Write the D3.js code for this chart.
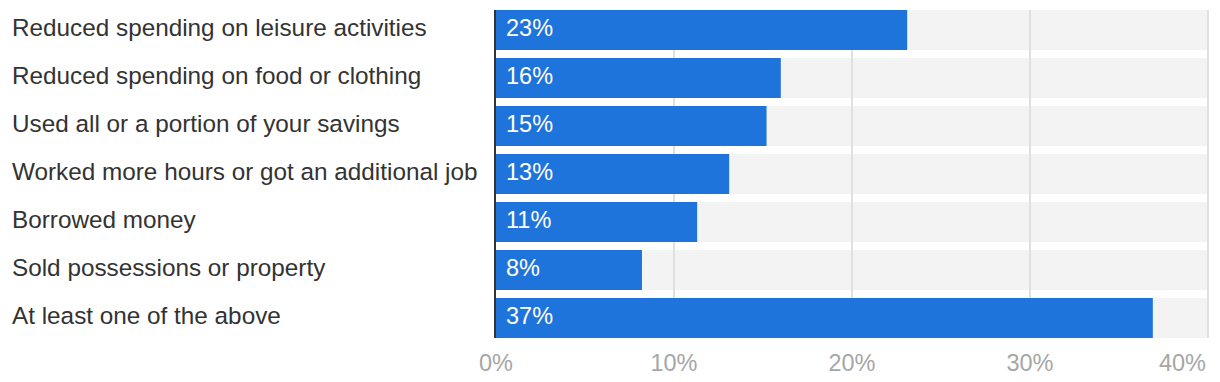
<!DOCTYPE html>
<html>
<head>
<meta charset="utf-8">
<script src="https://cdn.jsdelivr.net/npm/d3@7"></script>
<style>
  body { margin: 0; background: #fff; }
  svg { display: block; font-family: "Helvetica Neue", Helvetica, "Liberation Sans", Arial, sans-serif; }
</style>
</head>
<body>
<div id="chart"></div>
<script>
// categories and values
const categories = [
    "Reduced spending on leisure activities",
    "Reduced spending on food or clothing",
    "Used all or a portion of your savings",
    "Worked more hours or got an additional job",
    "Borrowed money",
    "Sold possessions or property",
    "At least one of the above"
];
const values = [23.1, 16.0, 15.2, 13.1, 11.3, 8.2, 36.9];
const xTicks = [0, 10, 20, 30, 40];
const xTickLabels = ["0%", "10%", "20%", "30%", "40%"];

const width = 1220, height = 382;
const plotLeft = 496, plotRight = 1208, plotTop = 10, rowH = 48;

const svg = d3.select("#chart").append("svg")
    .attr("width", width)
    .attr("height", height);

const x = d3.scaleLinear().domain([0, 40]).range([plotLeft, plotRight]);
const y = d3.scaleBand().domain(categories)
    .range([plotTop - 4, plotTop - 4 + rowH * categories.length])
    .paddingInner(8 / 48).paddingOuter(4 / 48);

// grey track behind each bar
svg.selectAll("rect.track").data(categories).enter().append("rect")
    .attr("class", "track")
    .attr("x", x(0))
    .attr("y", d => y(d))
    .attr("width", x(40) - x(0))
    .attr("height", y.bandwidth())
    .attr("fill", "#f3f3f3");

// gridlines
svg.selectAll("line.grid").data(xTicks.slice(1)).enter().append("line")
    .attr("class", "grid")
    .attr("x1", d => x(d)).attr("x2", d => x(d))
    .attr("y1", y(categories[0]))
    .attr("y2", y(categories[categories.length - 1]) + y.bandwidth())
    .attr("stroke", "#e0e0e0")
    .attr("stroke-width", 2);

// bars
svg.selectAll("rect.bar").data(values).enter().append("rect")
    .attr("class", "bar")
    .attr("x", x(0))
    .attr("y", (d, i) => y(categories[i]))
    .attr("width", d => x(d) - x(0))
    .attr("height", y.bandwidth())
    .attr("fill", "#1f74dc");

// value labels inside bars
svg.selectAll("text.val").data(values).enter().append("text")
    .attr("class", "val")
    .attr("x", x(0) + 10)
    .attr("y", (d, i) => y(categories[i]) + y.bandwidth() / 2 + 6)
    .text(d => Math.round(d) + "%")
    .style("font-size", "23.5px")
    .style("fill", "#fff");

// category labels
svg.selectAll("text.cat").data(categories).enter().append("text")
    .attr("class", "cat")
    .attr("x", 12)
    .attr("y", d => y(d) + y.bandwidth() / 2 + 6)
    .text(d => d)
    .style("font-size", "24.3px")
    .style("fill", "#333");

// y axis line
svg.append("line")
    .attr("x1", x(0) - 1).attr("x2", x(0) - 1)
    .attr("y1", y(categories[0]))
    .attr("y2", y(categories[categories.length - 1]) + y.bandwidth())
    .attr("stroke", "#333")
    .attr("stroke-width", 2);

// x tick labels
svg.selectAll("text.tick").data(xTicks).enter().append("text")
    .attr("class", "tick")
    .attr("x", (d, i) => i === xTicks.length - 1 ? x(d) - 2 : x(d))
    .attr("y", 371)
    .attr("text-anchor", (d, i) => i === xTicks.length - 1 ? "end" : "middle")
    .text((d, i) => xTickLabels[i])
    .style("font-size", "23.5px")
    .style("fill", "#a6a6a6");
</script>
</body>
</html>
